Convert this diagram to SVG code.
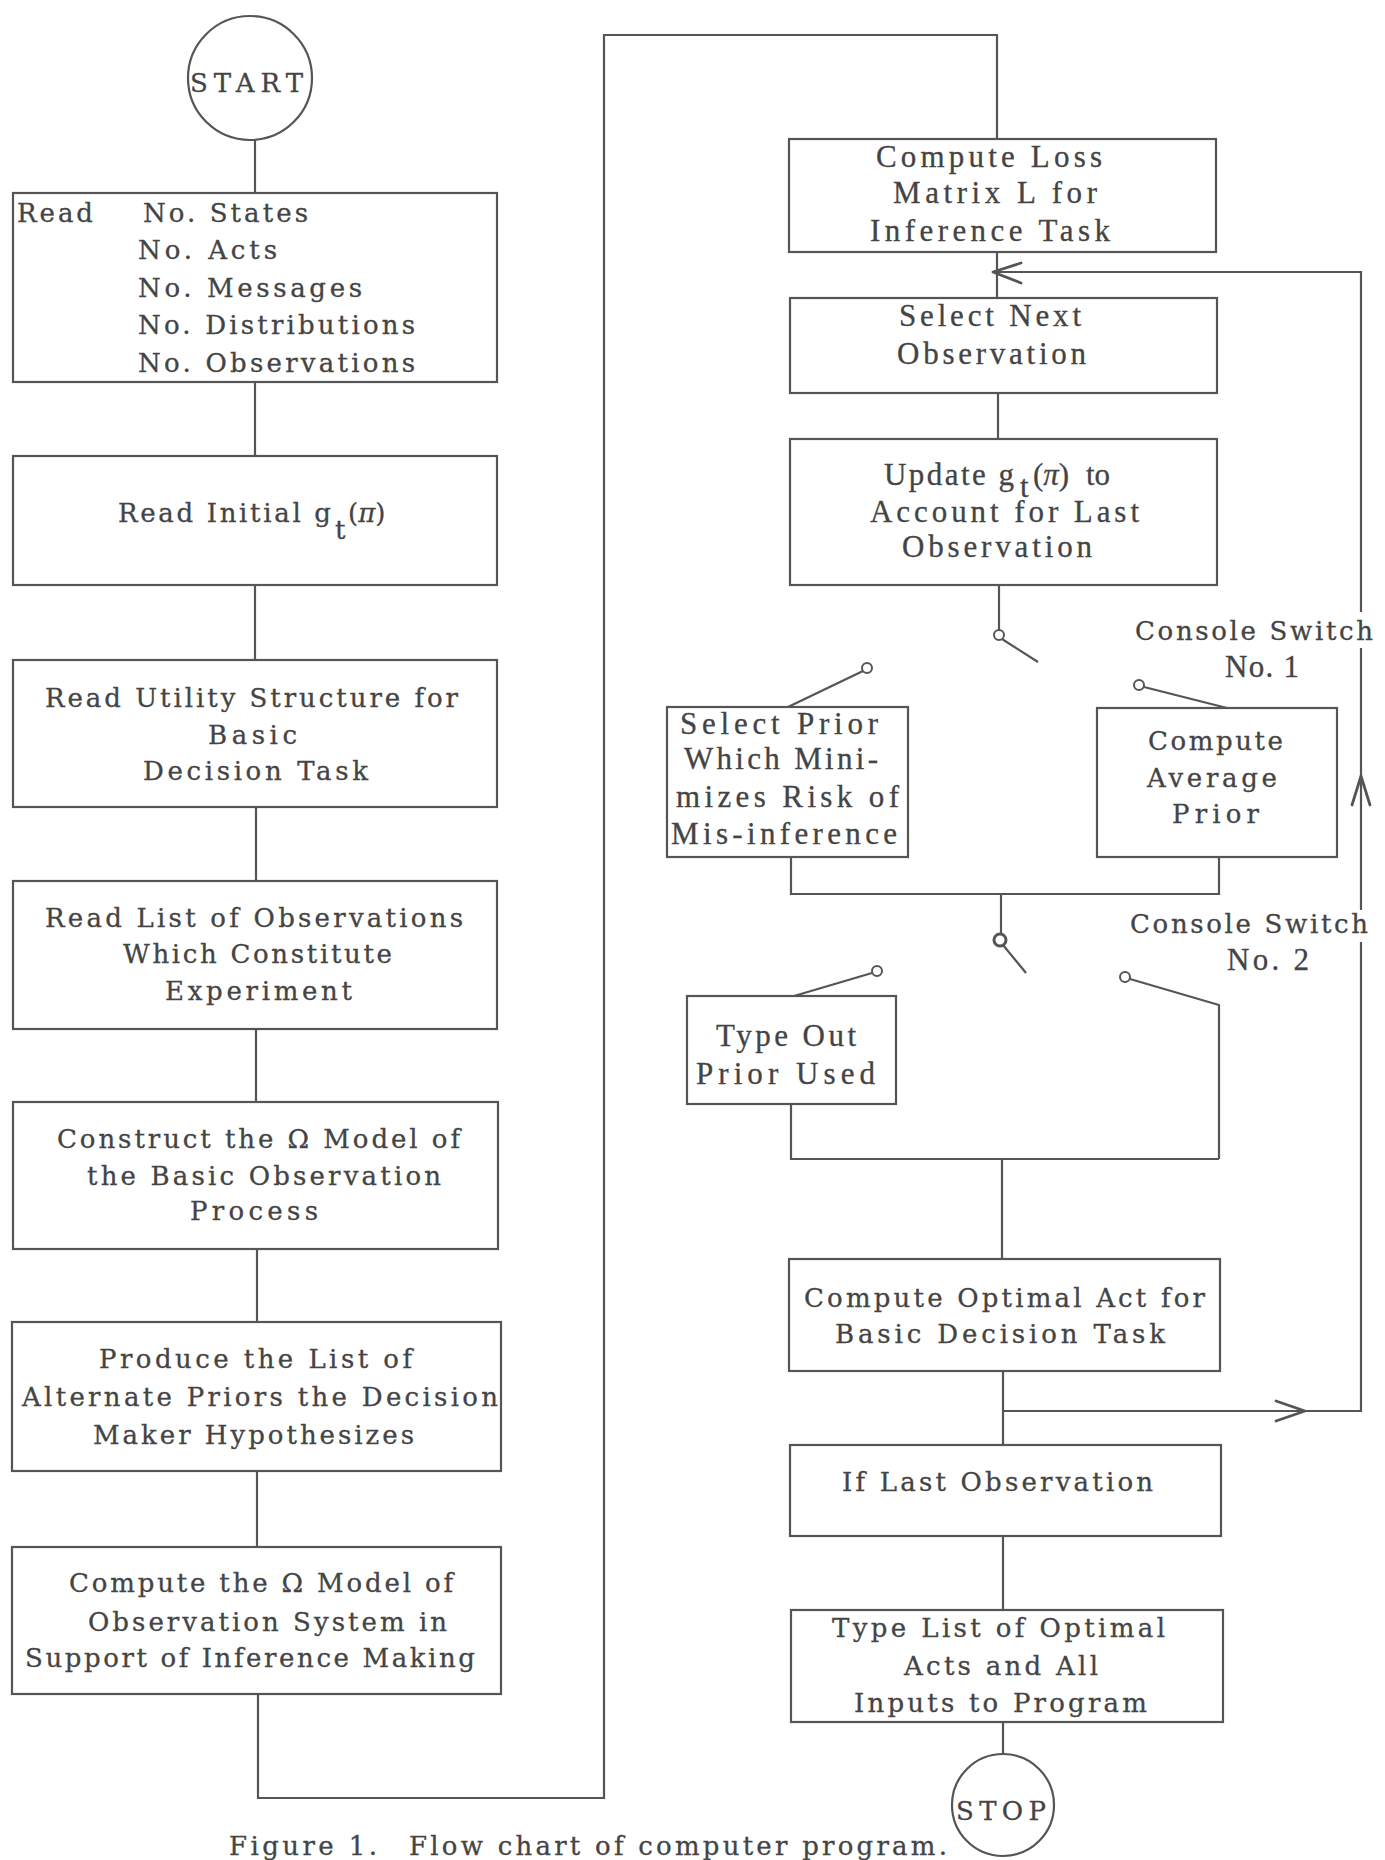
<svg xmlns="http://www.w3.org/2000/svg" width="1385" height="1860" viewBox="0 0 1385 1860">
<style>
.bg{fill:#ffffff}
.box{fill:none;stroke:#555;stroke-width:2.2}
.ln{fill:none;stroke:#555;stroke-width:2.2}
.ah{fill:none;stroke:#555;stroke-width:2.8;stroke-linecap:round;stroke-linejoin:round}
.ct{fill:#fff;stroke:#555;stroke-width:2}
.w{font-family:"DejaVu Serif","Liberation Serif",serif;font-size:26px;fill:#444;stroke:#444;stroke-width:0.3}
.n{font-family:"Liberation Serif","DejaVu Serif",serif;font-size:31px;fill:#444;stroke:#444;stroke-width:0.3}
</style>
<rect class="bg" x="0" y="0" width="1385" height="1860"/>

<g id="connectors">
  <line class="ln" x1="255" y1="140" x2="255" y2="193"/>
  <line class="ln" x1="255" y1="382" x2="255" y2="456"/>
  <line class="ln" x1="255" y1="585" x2="255" y2="660"/>
  <line class="ln" x1="256" y1="807" x2="256" y2="881"/>
  <line class="ln" x1="256" y1="1029" x2="256" y2="1102"/>
  <line class="ln" x1="257" y1="1249" x2="257" y2="1322"/>
  <line class="ln" x1="257" y1="1471" x2="257" y2="1547"/>
  <path class="ln" d="M258 1694 V1798 H604 V35 H997 V139"/>
  <line class="ln" x1="997" y1="252" x2="997" y2="298"/>
  <line class="ln" x1="998" y1="393" x2="998" y2="439"/>
  <line class="ln" x1="999" y1="585" x2="999" y2="630"/>
  <line class="ln" x1="1002" y1="639" x2="1038" y2="662"/>
  <line class="ln" x1="863" y1="671" x2="788" y2="707"/>
  <line class="ln" x1="1144" y1="687" x2="1227" y2="708"/>
  <path class="ln" d="M791 857 V894 H1219 V857"/>
  <line class="ln" x1="1001" y1="894" x2="1001" y2="934"/>
  <line class="ln" x1="1003" y1="945" x2="1026" y2="973"/>
  <line class="ln" x1="872" y1="973" x2="794" y2="996"/>
  <path class="ln" d="M1130 979 L1219 1005 V1159"/>
  <path class="ln" d="M791 1104 V1159 H1219"/>
  <line class="ln" x1="1002" y1="1159" x2="1002" y2="1259"/>
  <line class="ln" x1="1003" y1="1371" x2="1003" y2="1445"/>
  <path class="ln" d="M1003 1411 H1361 V942"/>
  <line class="ln" x1="1361" y1="910" x2="1361" y2="648"/>
  <path class="ln" d="M1361 612 V272 H997"/>
  <line class="ln" x1="1003" y1="1536" x2="1003" y2="1610"/>
  <line class="ln" x1="1003" y1="1722" x2="1003" y2="1754"/>
  <polyline class="ah" points="1021,263 993,272 1021,283"/>
  <polyline class="ah" points="1352,805 1361,776 1370,805"/>
  <polyline class="ah" points="1276,1401 1305,1411 1276,1421"/>
  <circle class="ct" cx="999" cy="635" r="5"/>
  <circle class="ct" cx="867" cy="668" r="5"/>
  <circle class="ct" cx="1139" cy="685" r="5"/>
  <circle class="ct" cx="1000" cy="940" r="6" style="stroke-width:3"/>
  <circle class="ct" cx="877" cy="971" r="5"/>
  <circle class="ct" cx="1125" cy="977" r="5"/>
</g>

<g id="start">
  <circle class="box" cx="250" cy="78" r="62"/>
  <text class="w" x="190" y="92" textLength="113">START</text>
</g>

<g id="read-counts">
  <rect class="box" x="13" y="193" width="484" height="189"/>
  <text class="w" x="17" y="222" textLength="76">Read</text>
  <text class="w" x="143" y="222" textLength="165">No. States</text>
  <text class="w" x="138" y="259" textLength="139">No. Acts</text>
  <text class="w" x="138" y="297" textLength="224">No. Messages</text>
  <text class="w" x="138" y="334" textLength="277">No. Distributions</text>
  <text class="w" x="138" y="372" textLength="277">No. Observations</text>
</g>

<g id="read-initial">
  <rect class="box" x="13" y="456" width="484" height="129"/>
  <text class="w"><tspan x="118" y="522" textLength="213">Read Initial g</tspan><tspan x="335" y="539">t</tspan><tspan x="348" y="522">(</tspan><tspan font-style="italic">π</tspan><tspan>)</tspan></text>
</g>

<g id="read-utility">
  <rect class="box" x="13" y="660" width="484" height="147"/>
  <text class="w" x="45" y="707" textLength="413">Read Utility Structure for</text>
  <text class="w" x="208" y="744" textLength="89">Basic</text>
  <text class="w" x="143" y="780" textLength="225">Decision Task</text>
</g>

<g id="read-list">
  <rect class="box" x="13" y="881" width="484" height="148"/>
  <text class="w" x="45" y="927" textLength="418">Read List of Observations</text>
  <text class="w" x="123" y="963" textLength="269">Which Constitute</text>
  <text class="w" x="165" y="1000" textLength="187">Experiment</text>
</g>

<g id="construct-q">
  <rect class="box" x="13" y="1102" width="485" height="147"/>
  <text class="w" x="57" y="1148" textLength="403">Construct the Ω Model of</text>
  <text class="w" x="87" y="1185" textLength="354">the Basic Observation</text>
  <text class="w" x="190" y="1220" textLength="128">Process</text>
</g>

<g id="produce-list">
  <rect class="box" x="12" y="1322" width="489" height="149"/>
  <text class="w" x="99" y="1368" textLength="313">Produce the List of</text>
  <text class="w" x="22" y="1406" textLength="476">Alternate Priors the Decision</text>
  <text class="w" x="93" y="1444" textLength="321">Maker Hypothesizes</text>
</g>

<g id="compute-omega">
  <rect class="box" x="12" y="1547" width="489" height="147"/>
  <text class="w" x="69" y="1592" textLength="384">Compute the Ω Model of</text>
  <text class="w" x="88" y="1631" textLength="359">Observation System in</text>
  <text class="w" x="25" y="1667" textLength="450">Support of Inference Making</text>
</g>

<g id="compute-loss">
  <rect class="box" x="789" y="139" width="427" height="113"/>
  <text class="n" x="876" y="167" textLength="226">Compute Loss</text>
  <text class="n" x="893" y="203" textLength="204">Matrix L for</text>
  <text class="n" x="870" y="241" textLength="240">Inference Task</text>
</g>

<g id="select-next">
  <rect class="box" x="790" y="298" width="427" height="95"/>
  <text class="n" x="899" y="326" textLength="182">Select Next</text>
  <text class="n" x="897" y="364" textLength="189">Observation</text>
</g>

<g id="update">
  <rect class="box" x="790" y="439" width="427" height="146"/>
  <text class="n"><tspan x="884" y="485" textLength="130">Update g</tspan><tspan x="1020" y="497">t</tspan><tspan x="1033" y="485">(</tspan><tspan font-style="italic">π</tspan><tspan>)</tspan><tspan x="1086" y="485">to</tspan></text>
  <text class="n" x="870" y="522" textLength="269">Account for Last</text>
  <text class="n" x="902" y="557" textLength="190">Observation</text>
</g>

<g id="switch1-label">
  <text class="w" x="1135" y="640" textLength="238">Console Switch</text>
  <text class="n" x="1225" y="677" textLength="74">No. 1</text>
</g>

<g id="select-prior">
  <rect class="box" x="667" y="707" width="241" height="150"/>
  <text class="n" x="680" y="734" textLength="198">Select Prior</text>
  <text class="n" x="684" y="769" textLength="194">Which Mini-</text>
  <text class="n" x="676" y="807" textLength="223">mizes Risk of</text>
  <text class="n" x="671" y="844" textLength="226">Mis-inference</text>
</g>

<g id="average-prior">
  <rect class="box" x="1097" y="708" width="240" height="149"/>
  <text class="w" x="1148" y="750" textLength="135">Compute</text>
  <text class="w" x="1147" y="787" textLength="130">Average</text>
  <text class="w" x="1172" y="823" textLength="87">Prior</text>
</g>

<g id="switch2-label">
  <text class="w" x="1130" y="933" textLength="238">Console Switch</text>
  <text class="n" x="1227" y="970" textLength="82">No. 2</text>
</g>

<g id="type-out">
  <rect class="box" x="687" y="996" width="209" height="108"/>
  <text class="n" x="716" y="1046" textLength="140">Type Out</text>
  <text class="n" x="696" y="1084" textLength="179">Prior Used</text>
</g>

<g id="optimal-act">
  <rect class="box" x="789" y="1259" width="431" height="112"/>
  <text class="w" x="804" y="1307" textLength="401">Compute Optimal Act for</text>
  <text class="w" x="835" y="1343" textLength="330">Basic Decision Task</text>
</g>

<g id="if-last">
  <rect class="box" x="790" y="1445" width="431" height="91"/>
  <text class="w" x="842" y="1491" textLength="311">If Last Observation</text>
</g>

<g id="type-list">
  <rect class="box" x="791" y="1610" width="432" height="112"/>
  <text class="w" x="832" y="1637" textLength="333">Type List of Optimal</text>
  <text class="w" x="904" y="1675" textLength="194">Acts and All</text>
  <text class="w" x="854" y="1712" textLength="293">Inputs to Program</text>
</g>

<g id="stop">
  <circle class="box" cx="1003" cy="1805" r="51"/>
  <text class="w" x="956" y="1820" textLength="90">STOP</text>
</g>

<g id="caption">
  <text class="w" x="229" y="1855" textLength="148">Figure 1.</text>
  <text class="w" x="409" y="1855" textLength="538">Flow chart of computer program.</text>
</g>
</svg>
